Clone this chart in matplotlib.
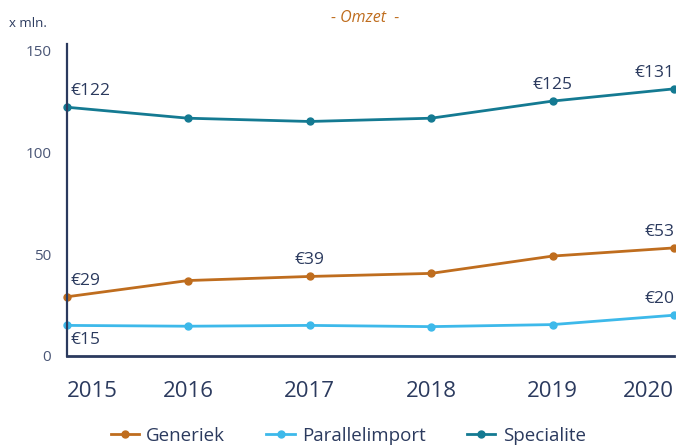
import matplotlib
matplotlib.use("Agg")
import matplotlib.pyplot as plt

plt.rcParams['font.family'] = ['Open Sans', 'DejaVu Sans']

years = [2015, 2016, 2017, 2018, 2019, 2020]
generiek = [29, 37, 39, 40.5, 49, 53]
parallelimport = [15, 14.6, 15, 14.4, 15.4, 20]
specialite = [122, 116.6, 115, 116.6, 125, 131]

NAVY = '#2b3a5e'
ORANGE = '#bf6d1e'
LIGHTBLUE = '#3db9ea'
TEAL = '#147a92'

fig = plt.figure(figsize=(6.76, 4.47), dpi=100)
ax = fig.add_axes([0.0984, 0.2036, 0.8987, 0.698])

ax.plot(years, generiek, color=ORANGE, lw=2, marker='o', ms=5, label='Generiek')
ax.plot(years, parallelimport, color=LIGHTBLUE, lw=2, marker='o', ms=5, label='Parallelimport')
ax.plot(years, specialite, color=TEAL, lw=2, marker='o', ms=5, label='Specialite')

ax.set_xlim(2015, 2020)
ax.set_ylim(0, 153)
ax.set_yticks([0, 50, 100, 150])
ax.set_xticks(years)
ax.tick_params(axis='x', length=0, labelsize=16, labelcolor=NAVY, pad=18)
ax.tick_params(axis='y', length=0, labelsize=11, labelcolor='#4a5676', pad=11)

# first and last year labels stay inside the figure
xlabels = ax.get_xticklabels()
xlabels[0].set_ha('left')
xlabels[0].set_x(years[0])
xlabels[-1].set_ha('right')

for s in ['top', 'right']:
    ax.spines[s].set_visible(False)
ax.spines['left'].set_color(NAVY)
ax.spines['left'].set_linewidth(1.6)
ax.spines['bottom'].set_color(NAVY)
ax.spines['bottom'].set_linewidth(2)
for sp in ax.spines.values():
    sp.set_clip_on(False)

lbl = dict(color=NAVY, fontsize=12.5)
# value labels at first point
ax.annotate(f'€{specialite[0]:.0f}', (years[0], specialite[0]), xytext=(3, 6),
            textcoords='offset points', ha='left', va='bottom', **lbl)
ax.annotate(f'€{generiek[0]:.0f}', (years[0], generiek[0]), xytext=(3, 6),
            textcoords='offset points', ha='left', va='bottom', **lbl)
ax.annotate(f'€{parallelimport[0]:.0f}', (years[0], parallelimport[0]), xytext=(3, -5),
            textcoords='offset points', ha='left', va='top', **lbl)
# middle labels
ax.annotate(f'€{generiek[2]:.0f}', (years[2], generiek[2]), xytext=(0, 6),
            textcoords='offset points', ha='center', va='bottom', **lbl)
ax.annotate(f'€{specialite[4]:.0f}', (years[4], specialite[4]), xytext=(0, 6),
            textcoords='offset points', ha='center', va='bottom', **lbl)
# last point labels
for series in (specialite, generiek, parallelimport):
    ax.annotate(f'€{series[-1]:.0f}', (years[-1], series[-1]), xytext=(0, 6),
                textcoords='offset points', ha='right', va='bottom', **lbl)

for line in ax.get_lines():
    line.set_clip_on(False)

fig.text(0.54, 0.96, '- Omzet  -', color=ORANGE, fontsize=11.5, style='italic',
         ha='center', va='center')
fig.text(0.013, 0.947, 'x mln.', color=NAVY, fontsize=9.5, ha='left', va='center')

fig.legend(loc='center', bbox_to_anchor=(0.515, 0.025), ncol=3, frameon=False,
           fontsize=13.5, labelcolor=NAVY, handlelength=1.5, handletextpad=0.4,
           columnspacing=2.2)

fig.savefig('out.png', dpi=100)
